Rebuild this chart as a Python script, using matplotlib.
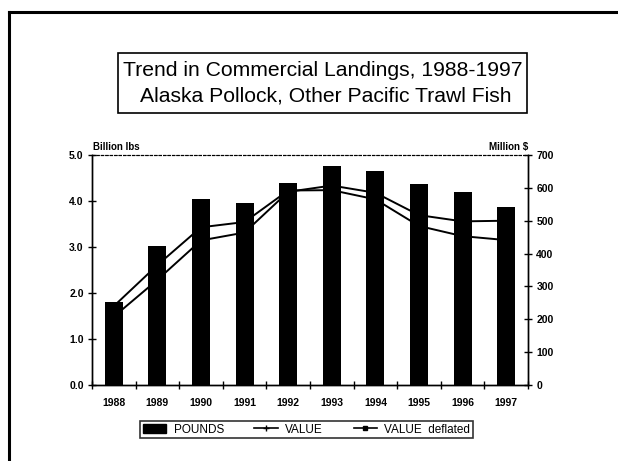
import matplotlib
matplotlib.use("Agg")
import matplotlib.pyplot as plt
from matplotlib.patches import Rectangle
from matplotlib.lines import Line2D
import numpy as np

plt.rcParams['font.family'] = ['Liberation Sans', 'DejaVu Sans']

years = ['1988', '1989', '1990', '1991', '1992', '1993', '1994', '1995', '1996', '1997']
pounds = [1.81, 3.02, 4.04, 3.95, 4.40, 4.76, 4.66, 4.37, 4.20, 3.87]          # billion lbs
value = [208, 320, 440, 464, 588, 607, 585, 517, 498, 500]                    # million $
value_deflated = [240, 365, 480, 496, 592, 593, 565, 484, 453, 441]           # million $
left_ticks = [0.0, 1.0, 2.0, 3.0, 4.0, 5.0]
right_ticks = [0, 100, 200, 300, 400, 500, 600, 700]

W, H = 618, 461
fig = plt.figure(figsize=(W / 100, H / 100), dpi=100)

# outer frame (left and top edges)
fig.add_artist(Line2D([9 / W, 9 / W], [0, 1 - 12 / H], color='black', lw=2.2, transform=fig.transFigure))
fig.add_artist(Line2D([9 / W, 1], [1 - 12 / H, 1 - 12 / H], color='black', lw=2.2, transform=fig.transFigure))

# title box
bx0, bx1, by0, by1 = 118, 527, 53, 113
fig.add_artist(Rectangle((bx0 / W, 1 - by1 / H), (bx1 - bx0) / W, (by1 - by0) / H,
                         transform=fig.transFigure, fill=False, edgecolor='black', lw=1.2))
fig.text((bx0 + bx1) / 2 / W, 1 - 71 / H, 'Trend in Commercial Landings, 1988-1997',
         ha='center', va='center', fontsize=15.2)
fig.text((bx0 + bx1) / 2 / W + 0.006, 1 - 96 / H, 'Alaska Pollock, Other Pacific Trawl Fish',
         ha='center', va='center', fontsize=15.2)

ax = fig.add_axes([92 / W, 1 - 385 / H, (528 - 92) / W, (385 - 155) / H])
x = np.arange(len(years))

ax2 = ax.twinx()
ax.set_zorder(2)
ax.patch.set_visible(False)

ax2.plot(x, value, color='black', lw=1.4, marker='+', ms=4, zorder=1)
ax2.plot(x, value_deflated, color='black', lw=1.4, marker='s', ms=2.5, zorder=1)
ax.bar(x, pounds, width=0.41, color='black', zorder=3)

ax.set_xlim(-0.5, len(years) - 0.5)
ax.set_ylim(0, 5)
ax2.set_ylim(0, 700)

ax.set_yticks(left_ticks)
ax.set_yticklabels(['%.1f' % v for v in left_ticks])
ax2.set_yticks(right_ticks)
ax2.set_yticklabels([str(v) for v in right_ticks])

ax.set_xticks(x)
ax.set_xticklabels(years)
ax.set_xticks(np.arange(-0.5, len(years), 1.0), minor=True)
ax.tick_params(axis='x', which='major', length=0, labelsize=7.5, pad=9)
ax.tick_params(axis='x', which='minor', direction='inout', length=6, width=1)
ax.tick_params(axis='y', direction='inout', length=6, width=1, labelsize=7.5, pad=3)
ax2.tick_params(axis='y', direction='inout', length=6, width=1, labelsize=7.5, pad=3)

for a in (ax, ax2):
    a.spines['top'].set_linestyle((0, (2, 2)))
    a.spines['top'].set_linewidth(0.8)
    a.spines['left'].set_linewidth(1.0)
    a.spines['right'].set_linewidth(1.0)
    a.spines['bottom'].set_linewidth(1.0)

for lab in ax.get_yticklabels() + ax2.get_yticklabels() + ax.get_xticklabels():
    lab.set_fontweight('bold')

fig.text(93 / W, 1 - 147 / H, 'Billion lbs', fontsize=7, ha='left', va='center', fontweight='bold')
fig.text(528 / W, 1 - 147 / H, 'Million $', fontsize=7, ha='right', va='center', fontweight='bold')

handles = [Rectangle((0, 0), 1, 1, color='black'),
           Line2D([], [], color='black', lw=1.2, marker='+', ms=4),
           Line2D([], [], color='black', lw=1.2, marker='s', ms=3)]
leg = fig.legend(handles, ['POUNDS', 'VALUE', 'VALUE  deflated'], ncol=3,
                 loc='center', bbox_to_anchor=(306.5 / W, 1 - 429.5 / H),
                 fontsize=8.5, frameon=True, fancybox=False, handlelength=2.0,
                 handletextpad=0.6, columnspacing=2.6, borderpad=0.2)
leg.get_frame().set_edgecolor('black')
leg.get_frame().set_linewidth(1.2)

fig.savefig('out.png', dpi=100)
